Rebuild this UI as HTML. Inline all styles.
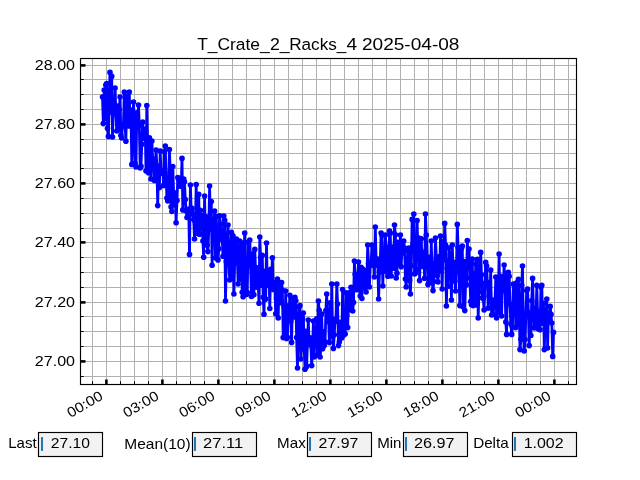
<!DOCTYPE html>
<html><head><meta charset="utf-8"><title>T_Crate_2_Racks_4</title>
<style>
html,body{margin:0;padding:0;background:#fff;}
body{width:640px;height:480px;overflow:hidden;}
svg{display:block;will-change:transform;font-family:"Liberation Sans",sans-serif;font-size:14.1px;fill:#000;}
</style></head><body>
<svg width="640" height="480" viewBox="0 0 640 480">
<rect width="640" height="480" fill="#fff"/>
<g stroke="#b0b0b0" stroke-width="1" fill="none" shape-rendering="crispEdges"><path d="M92.5 58.5V384.5"/><path d="M106.5 58.5V384.5"/><path d="M120.5 58.5V384.5"/><path d="M134.5 58.5V384.5"/><path d="M148.5 58.5V384.5"/><path d="M162.5 58.5V384.5"/><path d="M176.5 58.5V384.5"/><path d="M190.5 58.5V384.5"/><path d="M204.5 58.5V384.5"/><path d="M218.5 58.5V384.5"/><path d="M232.5 58.5V384.5"/><path d="M246.5 58.5V384.5"/><path d="M260.5 58.5V384.5"/><path d="M274.5 58.5V384.5"/><path d="M288.5 58.5V384.5"/><path d="M302.5 58.5V384.5"/><path d="M316.5 58.5V384.5"/><path d="M330.5 58.5V384.5"/><path d="M344.5 58.5V384.5"/><path d="M358.5 58.5V384.5"/><path d="M372.5 58.5V384.5"/><path d="M386.5 58.5V384.5"/><path d="M400.5 58.5V384.5"/><path d="M414.5 58.5V384.5"/><path d="M428.5 58.5V384.5"/><path d="M442.5 58.5V384.5"/><path d="M456.5 58.5V384.5"/><path d="M470.5 58.5V384.5"/><path d="M484.5 58.5V384.5"/><path d="M498.5 58.5V384.5"/><path d="M512.5 58.5V384.5"/><path d="M526.5 58.5V384.5"/><path d="M540.5 58.5V384.5"/><path d="M554.5 58.5V384.5"/><path d="M568.5 58.5V384.5"/><path d="M80.5 376.5H576.5"/><path d="M80.5 361.5H576.5"/><path d="M80.5 346.5H576.5"/><path d="M80.5 331.5H576.5"/><path d="M80.5 316.5H576.5"/><path d="M80.5 302.5H576.5"/><path d="M80.5 287.5H576.5"/><path d="M80.5 272.5H576.5"/><path d="M80.5 257.5H576.5"/><path d="M80.5 242.5H576.5"/><path d="M80.5 228.5H576.5"/><path d="M80.5 213.5H576.5"/><path d="M80.5 198.5H576.5"/><path d="M80.5 183.5H576.5"/><path d="M80.5 168.5H576.5"/><path d="M80.5 153.5H576.5"/><path d="M80.5 139.5H576.5"/><path d="M80.5 124.5H576.5"/><path d="M80.5 109.5H576.5"/><path d="M80.5 94.5H576.5"/><path d="M80.5 79.5H576.5"/><path d="M80.5 65.5H576.5"/></g>
<g stroke="#000" stroke-width="1" fill="none"><path d="M92.5 384.5v-3.2"/><path d="M106.5 384.5v-3.2"/><path d="M120.5 384.5v-3.2"/><path d="M134.5 384.5v-3.2"/><path d="M148.5 384.5v-3.2"/><path d="M162.5 384.5v-3.2"/><path d="M176.5 384.5v-3.2"/><path d="M190.5 384.5v-3.2"/><path d="M204.5 384.5v-3.2"/><path d="M218.5 384.5v-3.2"/><path d="M232.5 384.5v-3.2"/><path d="M246.5 384.5v-3.2"/><path d="M260.5 384.5v-3.2"/><path d="M274.5 384.5v-3.2"/><path d="M288.5 384.5v-3.2"/><path d="M302.5 384.5v-3.2"/><path d="M316.5 384.5v-3.2"/><path d="M330.5 384.5v-3.2"/><path d="M344.5 384.5v-3.2"/><path d="M358.5 384.5v-3.2"/><path d="M372.5 384.5v-3.2"/><path d="M386.5 384.5v-3.2"/><path d="M400.5 384.5v-3.2"/><path d="M414.5 384.5v-3.2"/><path d="M428.5 384.5v-3.2"/><path d="M442.5 384.5v-3.2"/><path d="M456.5 384.5v-3.2"/><path d="M470.5 384.5v-3.2"/><path d="M484.5 384.5v-3.2"/><path d="M498.5 384.5v-3.2"/><path d="M512.5 384.5v-3.2"/><path d="M526.5 384.5v-3.2"/><path d="M540.5 384.5v-3.2"/><path d="M554.5 384.5v-3.2"/><path d="M568.5 384.5v-3.2"/><path d="M80.5 376.5h3.2"/><path d="M80.5 361.5h3.2"/><path d="M80.5 346.5h3.2"/><path d="M80.5 331.5h3.2"/><path d="M80.5 316.5h3.2"/><path d="M80.5 302.5h3.2"/><path d="M80.5 287.5h3.2"/><path d="M80.5 272.5h3.2"/><path d="M80.5 257.5h3.2"/><path d="M80.5 242.5h3.2"/><path d="M80.5 228.5h3.2"/><path d="M80.5 213.5h3.2"/><path d="M80.5 198.5h3.2"/><path d="M80.5 183.5h3.2"/><path d="M80.5 168.5h3.2"/><path d="M80.5 153.5h3.2"/><path d="M80.5 139.5h3.2"/><path d="M80.5 124.5h3.2"/><path d="M80.5 109.5h3.2"/><path d="M80.5 94.5h3.2"/><path d="M80.5 79.5h3.2"/><path d="M80.5 65.5h3.2"/></g>
<g stroke="#000" stroke-width="2.6" fill="none"><path d="M106.4 384.5v-5.0"/><path d="M162.4 384.5v-5.0"/><path d="M218.4 384.5v-5.0"/><path d="M274.4 384.5v-5.0"/><path d="M330.4 384.5v-5.0"/><path d="M386.4 384.5v-5.0"/><path d="M442.4 384.5v-5.0"/><path d="M498.4 384.5v-5.0"/><path d="M554.4 384.5v-5.0"/><path d="M80.5 361.4h5.0"/><path d="M80.5 302.4h5.0"/><path d="M80.5 242.4h5.0"/><path d="M80.5 183.4h5.0"/><path d="M80.5 124.4h5.0"/><path d="M80.5 65.4h5.0"/></g>
<polyline points="102.5,97.0 103.3,123.6 104.2,90.0 105.0,118.7 105.8,85.0 106.7,83.6 107.5,128.4 108.4,136.4 109.2,103.8 110.0,72.4 110.9,112.2 111.7,76.4 112.5,137.0 113.4,102.6 114.2,112.1 115.1,88.0 115.9,114.1 116.7,131.0 117.6,106.1 118.4,129.6 119.2,109.5 120.1,97.0 120.9,135.4 121.7,138.0 122.6,124.7 123.4,125.8 124.3,92.0 125.1,125.6 125.9,141.3 126.8,96.6 127.6,106.4 128.4,125.9 129.3,92.0 130.1,125.6 130.9,110.1 131.8,164.4 132.6,137.0 133.5,102.0 134.3,122.0 135.1,163.4 136.0,167.0 136.8,112.9 137.6,124.6 138.5,105.0 139.3,125.4 140.2,168.0 141.0,166.3 141.8,144.2 142.7,122.0 143.5,138.1 144.3,135.6 145.2,129.1 146.0,171.0 146.8,105.6 147.7,145.0 148.5,172.8 149.4,137.8 150.2,163.9 151.0,179.0 151.9,141.0 152.7,159.3 153.5,159.3 154.4,180.4 155.2,164.6 156.1,150.0 156.9,166.2 157.7,205.6 158.6,166.3 159.4,187.6 160.2,151.0 161.1,173.3 161.9,173.3 162.7,170.5 163.6,185.4 164.4,151.8 165.3,146.0 166.1,178.8 166.9,198.0 167.8,201.0 168.6,186.9 169.4,149.6 170.3,172.9 171.1,206.9 171.9,211.5 172.8,166.6 173.6,192.3 174.5,204.7 175.3,195.1 176.1,222.7 177.0,200.5 177.8,177.6 178.6,179.5 179.5,186.0 180.3,184.6 181.2,186.5 182.0,158.4 182.8,209.9 183.7,179.0 184.5,181.7 185.3,199.5 186.2,211.0 187.0,217.5 187.8,212.6 188.7,209.1 189.5,254.4 190.4,185.0 191.2,210.6 192.0,208.3 192.9,214.2 193.7,219.6 194.5,239.0 195.4,221.8 196.2,184.6 197.1,233.1 197.9,233.6 198.7,194.4 199.6,234.3 200.4,210.4 201.2,218.0 202.1,215.6 202.9,241.0 203.7,257.3 204.6,196.0 205.4,241.7 206.3,216.7 207.1,245.3 207.9,251.6 208.8,229.6 209.6,186.0 210.4,222.9 211.3,201.5 212.1,265.3 212.9,219.6 213.8,235.6 214.6,211.0 215.5,258.0 216.3,216.6 217.1,241.3 218.0,259.9 218.8,248.7 219.6,215.8 220.5,224.2 221.3,239.1 222.2,239.3 223.0,256.2 223.8,216.0 224.7,220.4 225.5,301.0 226.3,261.8 227.2,242.1 228.0,225.0 228.8,262.1 229.7,280.0 230.5,262.0 231.4,232.4 232.2,278.5 233.0,235.7 233.9,294.0 234.7,261.9 235.5,241.7 236.4,239.0 237.2,251.6 238.1,284.0 238.9,264.3 239.7,241.0 240.6,279.2 241.4,242.8 242.2,292.2 243.1,296.8 243.9,258.9 244.7,233.0 245.6,292.0 246.4,294.5 247.3,292.6 248.1,242.3 248.9,258.9 249.8,240.0 250.6,266.1 251.4,296.5 252.3,257.6 253.1,253.8 253.9,294.8 254.8,249.4 255.6,270.4 256.5,287.1 257.3,267.7 258.1,280.9 259.0,303.3 259.8,237.0 260.6,257.6 261.5,285.2 262.3,255.3 263.2,297.3 264.0,314.2 264.8,271.4 265.7,299.1 266.5,243.0 267.3,284.1 268.2,285.5 269.0,272.7 269.8,308.5 270.7,269.2 271.5,278.8 272.4,257.8 273.2,289.4 274.0,282.8 274.9,288.0 275.7,313.8 276.5,298.5 277.4,279.0 278.2,318.0 279.1,282.3 279.9,285.8 280.7,302.8 281.6,282.6 282.4,290.2 283.2,337.6 284.1,306.2 284.9,333.0 285.7,291.0 286.6,338.4 287.4,337.4 288.3,305.9 289.1,311.7 289.9,295.3 290.8,320.9 291.6,342.4 292.4,306.8 293.3,298.5 294.1,316.9 294.9,297.3 295.8,300.7 296.6,337.5 297.5,368.0 298.3,326.4 299.1,306.7 300.0,305.6 300.8,359.0 301.6,339.4 302.5,318.9 303.3,313.0 304.2,349.5 305.0,369.2 305.8,331.2 306.7,366.4 307.5,340.5 308.3,320.0 309.2,344.6 310.0,337.9 310.8,342.9 311.7,365.6 312.5,348.2 313.4,321.0 314.2,357.0 315.0,333.9 315.9,335.7 316.7,318.9 317.5,355.0 318.4,301.0 319.2,310.2 320.1,357.0 320.9,348.5 321.7,314.1 322.6,348.8 323.4,331.8 324.2,345.6 325.1,341.8 325.9,310.6 326.7,294.0 327.6,321.5 328.4,311.4 329.3,342.4 330.1,302.7 330.9,336.4 331.8,284.0 332.6,333.2 333.4,348.4 334.3,334.7 335.1,319.3 335.9,321.2 336.8,284.0 337.6,304.0 338.5,345.6 339.3,341.9 340.1,322.3 341.0,329.2 341.8,338.0 342.6,289.5 343.5,335.2 344.3,315.1 345.2,334.0 346.0,292.7 346.8,315.5 347.7,327.6 348.5,297.5 349.3,292.8 350.2,309.7 351.0,287.4 351.8,298.5 352.7,311.0 353.5,302.4 354.4,261.0 355.2,274.3 356.0,285.9 356.9,289.8 357.7,283.8 358.5,262.0 359.4,273.0 360.2,296.0 361.1,267.3 361.9,298.5 362.7,269.0 363.6,282.1 364.4,288.0 365.2,270.8 366.1,292.0 366.9,277.4 367.7,245.0 368.6,263.2 369.4,287.0 370.3,265.1 371.1,265.3 371.9,245.0 372.8,262.6 373.6,252.9 374.4,277.0 375.3,227.0 376.1,259.2 376.9,258.7 377.8,265.3 378.6,299.0 379.5,272.1 380.3,260.9 381.1,233.0 382.0,235.3 382.8,286.0 383.6,254.4 384.5,270.9 385.3,235.0 386.2,247.1 387.0,271.9 387.8,276.3 388.7,272.0 389.5,231.0 390.3,233.0 391.2,276.0 392.0,257.2 392.8,247.0 393.7,268.2 394.5,225.0 395.4,234.8 396.2,278.0 397.0,273.2 397.9,242.4 398.7,263.9 399.5,258.0 400.4,235.0 401.2,266.7 402.1,243.9 402.9,253.1 403.7,241.0 404.6,248.0 405.4,279.0 406.2,287.0 407.1,265.6 407.9,250.8 408.7,248.0 409.6,280.4 410.4,294.0 411.3,265.6 412.1,219.4 412.9,244.7 413.8,214.0 414.6,274.0 415.4,273.0 416.3,269.4 417.1,220.6 417.9,250.6 418.8,238.0 419.6,280.6 420.5,249.2 421.3,238.7 422.1,266.5 423.0,263.1 423.8,252.5 424.6,278.2 425.5,214.0 426.3,235.0 427.2,257.4 428.0,284.6 428.8,282.7 429.7,257.3 430.5,279.0 431.3,241.0 432.2,281.9 433.0,290.6 433.8,281.5 434.7,263.3 435.5,238.0 436.4,259.0 437.2,275.6 438.0,282.0 438.9,256.7 439.7,271.1 440.5,236.0 441.4,258.8 442.2,289.0 443.1,241.6 443.9,259.8 444.7,223.4 445.6,245.1 446.4,306.0 447.2,268.4 448.1,286.3 448.9,248.0 449.7,261.1 450.6,253.9 451.4,300.0 452.3,245.0 453.1,272.0 453.9,262.2 454.8,280.9 455.6,291.0 456.4,269.1 457.3,224.4 458.1,247.6 458.9,264.5 459.8,305.6 460.6,248.1 461.5,248.2 462.3,246.0 463.1,306.7 464.0,261.5 464.8,310.6 465.6,284.0 466.5,284.8 467.3,240.6 468.2,262.6 469.0,249.0 469.8,278.0 470.7,301.5 471.5,304.8 472.3,259.0 473.2,305.6 474.0,273.8 474.8,304.4 475.7,263.7 476.5,305.0 477.4,259.4 478.2,318.0 479.0,291.8 479.9,276.3 480.7,252.4 481.5,274.7 482.4,297.7 483.2,298.4 484.1,310.0 484.9,283.3 485.7,262.4 486.6,266.0 487.4,282.6 488.2,308.1 489.1,296.0 489.9,300.1 490.7,270.0 491.6,315.0 492.4,300.0 493.3,314.5 494.1,301.6 494.9,303.5 495.8,277.0 496.6,318.0 497.4,304.8 498.3,301.0 499.1,254.0 499.9,312.8 500.8,276.4 501.6,316.0 502.5,276.8 503.3,290.4 504.1,265.0 505.0,285.9 505.8,322.0 506.6,334.4 507.5,273.4 508.3,272.4 509.2,276.3 510.0,304.1 510.8,324.1 511.7,334.4 512.5,327.0 513.3,284.0 514.2,285.1 515.0,297.4 515.8,327.6 516.7,282.9 517.5,323.7 518.4,279.4 519.2,308.7 520.0,349.6 520.9,339.3 521.7,285.2 522.5,266.0 523.4,330.9 524.2,351.0 525.1,339.5 525.9,313.2 526.7,290.6 527.6,289.0 528.4,312.5 529.2,345.6 530.1,313.8 530.9,335.5 531.7,300.6 532.6,278.4 533.4,308.2 534.3,328.0 535.1,326.6 535.9,322.6 536.8,285.2 537.6,314.5 538.4,329.0 539.3,311.4 540.1,329.8 540.9,287.1 541.8,285.2 542.6,323.2 543.5,303.3 544.3,349.6 545.1,321.0 546.0,317.5 546.8,299.0 547.6,348.0 548.5,313.5 549.3,320.4 550.2,306.4 551.0,314.4 551.8,323.0 552.7,356.4 553.5,332.4" fill="none" stroke="#0000ff" stroke-width="2.78" stroke-linejoin="round" stroke-linecap="butt"/>
<g fill="#0000ff" stroke="none"><circle cx="102.5" cy="97.0" r="2.8"/><circle cx="103.3" cy="123.6" r="2.8"/><circle cx="104.2" cy="90.0" r="2.8"/><circle cx="105.0" cy="118.7" r="2.8"/><circle cx="105.8" cy="85.0" r="2.8"/><circle cx="106.7" cy="83.6" r="2.8"/><circle cx="107.5" cy="128.4" r="2.8"/><circle cx="108.4" cy="136.4" r="2.8"/><circle cx="109.2" cy="103.8" r="2.8"/><circle cx="110.0" cy="72.4" r="2.8"/><circle cx="110.9" cy="112.2" r="2.8"/><circle cx="111.7" cy="76.4" r="2.8"/><circle cx="112.5" cy="137.0" r="2.8"/><circle cx="113.4" cy="102.6" r="2.8"/><circle cx="114.2" cy="112.1" r="2.8"/><circle cx="115.1" cy="88.0" r="2.8"/><circle cx="115.9" cy="114.1" r="2.8"/><circle cx="116.7" cy="131.0" r="2.8"/><circle cx="117.6" cy="106.1" r="2.8"/><circle cx="118.4" cy="129.6" r="2.8"/><circle cx="119.2" cy="109.5" r="2.8"/><circle cx="120.1" cy="97.0" r="2.8"/><circle cx="120.9" cy="135.4" r="2.8"/><circle cx="121.7" cy="138.0" r="2.8"/><circle cx="122.6" cy="124.7" r="2.8"/><circle cx="123.4" cy="125.8" r="2.8"/><circle cx="124.3" cy="92.0" r="2.8"/><circle cx="125.1" cy="125.6" r="2.8"/><circle cx="125.9" cy="141.3" r="2.8"/><circle cx="126.8" cy="96.6" r="2.8"/><circle cx="127.6" cy="106.4" r="2.8"/><circle cx="128.4" cy="125.9" r="2.8"/><circle cx="129.3" cy="92.0" r="2.8"/><circle cx="130.1" cy="125.6" r="2.8"/><circle cx="130.9" cy="110.1" r="2.8"/><circle cx="131.8" cy="164.4" r="2.8"/><circle cx="132.6" cy="137.0" r="2.8"/><circle cx="133.5" cy="102.0" r="2.8"/><circle cx="134.3" cy="122.0" r="2.8"/><circle cx="135.1" cy="163.4" r="2.8"/><circle cx="136.0" cy="167.0" r="2.8"/><circle cx="136.8" cy="112.9" r="2.8"/><circle cx="137.6" cy="124.6" r="2.8"/><circle cx="138.5" cy="105.0" r="2.8"/><circle cx="139.3" cy="125.4" r="2.8"/><circle cx="140.2" cy="168.0" r="2.8"/><circle cx="141.0" cy="166.3" r="2.8"/><circle cx="141.8" cy="144.2" r="2.8"/><circle cx="142.7" cy="122.0" r="2.8"/><circle cx="143.5" cy="138.1" r="2.8"/><circle cx="144.3" cy="135.6" r="2.8"/><circle cx="145.2" cy="129.1" r="2.8"/><circle cx="146.0" cy="171.0" r="2.8"/><circle cx="146.8" cy="105.6" r="2.8"/><circle cx="147.7" cy="145.0" r="2.8"/><circle cx="148.5" cy="172.8" r="2.8"/><circle cx="149.4" cy="137.8" r="2.8"/><circle cx="150.2" cy="163.9" r="2.8"/><circle cx="151.0" cy="179.0" r="2.8"/><circle cx="151.9" cy="141.0" r="2.8"/><circle cx="152.7" cy="159.3" r="2.8"/><circle cx="153.5" cy="159.3" r="2.8"/><circle cx="154.4" cy="180.4" r="2.8"/><circle cx="155.2" cy="164.6" r="2.8"/><circle cx="156.1" cy="150.0" r="2.8"/><circle cx="156.9" cy="166.2" r="2.8"/><circle cx="157.7" cy="205.6" r="2.8"/><circle cx="158.6" cy="166.3" r="2.8"/><circle cx="159.4" cy="187.6" r="2.8"/><circle cx="160.2" cy="151.0" r="2.8"/><circle cx="161.1" cy="173.3" r="2.8"/><circle cx="161.9" cy="173.3" r="2.8"/><circle cx="162.7" cy="170.5" r="2.8"/><circle cx="163.6" cy="185.4" r="2.8"/><circle cx="164.4" cy="151.8" r="2.8"/><circle cx="165.3" cy="146.0" r="2.8"/><circle cx="166.1" cy="178.8" r="2.8"/><circle cx="166.9" cy="198.0" r="2.8"/><circle cx="167.8" cy="201.0" r="2.8"/><circle cx="168.6" cy="186.9" r="2.8"/><circle cx="169.4" cy="149.6" r="2.8"/><circle cx="170.3" cy="172.9" r="2.8"/><circle cx="171.1" cy="206.9" r="2.8"/><circle cx="171.9" cy="211.5" r="2.8"/><circle cx="172.8" cy="166.6" r="2.8"/><circle cx="173.6" cy="192.3" r="2.8"/><circle cx="174.5" cy="204.7" r="2.8"/><circle cx="175.3" cy="195.1" r="2.8"/><circle cx="176.1" cy="222.7" r="2.8"/><circle cx="177.0" cy="200.5" r="2.8"/><circle cx="177.8" cy="177.6" r="2.8"/><circle cx="178.6" cy="179.5" r="2.8"/><circle cx="179.5" cy="186.0" r="2.8"/><circle cx="180.3" cy="184.6" r="2.8"/><circle cx="181.2" cy="186.5" r="2.8"/><circle cx="182.0" cy="158.4" r="2.8"/><circle cx="182.8" cy="209.9" r="2.8"/><circle cx="183.7" cy="179.0" r="2.8"/><circle cx="184.5" cy="181.7" r="2.8"/><circle cx="185.3" cy="199.5" r="2.8"/><circle cx="186.2" cy="211.0" r="2.8"/><circle cx="187.0" cy="217.5" r="2.8"/><circle cx="187.8" cy="212.6" r="2.8"/><circle cx="188.7" cy="209.1" r="2.8"/><circle cx="189.5" cy="254.4" r="2.8"/><circle cx="190.4" cy="185.0" r="2.8"/><circle cx="191.2" cy="210.6" r="2.8"/><circle cx="192.0" cy="208.3" r="2.8"/><circle cx="192.9" cy="214.2" r="2.8"/><circle cx="193.7" cy="219.6" r="2.8"/><circle cx="194.5" cy="239.0" r="2.8"/><circle cx="195.4" cy="221.8" r="2.8"/><circle cx="196.2" cy="184.6" r="2.8"/><circle cx="197.1" cy="233.1" r="2.8"/><circle cx="197.9" cy="233.6" r="2.8"/><circle cx="198.7" cy="194.4" r="2.8"/><circle cx="199.6" cy="234.3" r="2.8"/><circle cx="200.4" cy="210.4" r="2.8"/><circle cx="201.2" cy="218.0" r="2.8"/><circle cx="202.1" cy="215.6" r="2.8"/><circle cx="202.9" cy="241.0" r="2.8"/><circle cx="203.7" cy="257.3" r="2.8"/><circle cx="204.6" cy="196.0" r="2.8"/><circle cx="205.4" cy="241.7" r="2.8"/><circle cx="206.3" cy="216.7" r="2.8"/><circle cx="207.1" cy="245.3" r="2.8"/><circle cx="207.9" cy="251.6" r="2.8"/><circle cx="208.8" cy="229.6" r="2.8"/><circle cx="209.6" cy="186.0" r="2.8"/><circle cx="210.4" cy="222.9" r="2.8"/><circle cx="211.3" cy="201.5" r="2.8"/><circle cx="212.1" cy="265.3" r="2.8"/><circle cx="212.9" cy="219.6" r="2.8"/><circle cx="213.8" cy="235.6" r="2.8"/><circle cx="214.6" cy="211.0" r="2.8"/><circle cx="215.5" cy="258.0" r="2.8"/><circle cx="216.3" cy="216.6" r="2.8"/><circle cx="217.1" cy="241.3" r="2.8"/><circle cx="218.0" cy="259.9" r="2.8"/><circle cx="218.8" cy="248.7" r="2.8"/><circle cx="219.6" cy="215.8" r="2.8"/><circle cx="220.5" cy="224.2" r="2.8"/><circle cx="221.3" cy="239.1" r="2.8"/><circle cx="222.2" cy="239.3" r="2.8"/><circle cx="223.0" cy="256.2" r="2.8"/><circle cx="223.8" cy="216.0" r="2.8"/><circle cx="224.7" cy="220.4" r="2.8"/><circle cx="225.5" cy="301.0" r="2.8"/><circle cx="226.3" cy="261.8" r="2.8"/><circle cx="227.2" cy="242.1" r="2.8"/><circle cx="228.0" cy="225.0" r="2.8"/><circle cx="228.8" cy="262.1" r="2.8"/><circle cx="229.7" cy="280.0" r="2.8"/><circle cx="230.5" cy="262.0" r="2.8"/><circle cx="231.4" cy="232.4" r="2.8"/><circle cx="232.2" cy="278.5" r="2.8"/><circle cx="233.0" cy="235.7" r="2.8"/><circle cx="233.9" cy="294.0" r="2.8"/><circle cx="234.7" cy="261.9" r="2.8"/><circle cx="235.5" cy="241.7" r="2.8"/><circle cx="236.4" cy="239.0" r="2.8"/><circle cx="237.2" cy="251.6" r="2.8"/><circle cx="238.1" cy="284.0" r="2.8"/><circle cx="238.9" cy="264.3" r="2.8"/><circle cx="239.7" cy="241.0" r="2.8"/><circle cx="240.6" cy="279.2" r="2.8"/><circle cx="241.4" cy="242.8" r="2.8"/><circle cx="242.2" cy="292.2" r="2.8"/><circle cx="243.1" cy="296.8" r="2.8"/><circle cx="243.9" cy="258.9" r="2.8"/><circle cx="244.7" cy="233.0" r="2.8"/><circle cx="245.6" cy="292.0" r="2.8"/><circle cx="246.4" cy="294.5" r="2.8"/><circle cx="247.3" cy="292.6" r="2.8"/><circle cx="248.1" cy="242.3" r="2.8"/><circle cx="248.9" cy="258.9" r="2.8"/><circle cx="249.8" cy="240.0" r="2.8"/><circle cx="250.6" cy="266.1" r="2.8"/><circle cx="251.4" cy="296.5" r="2.8"/><circle cx="252.3" cy="257.6" r="2.8"/><circle cx="253.1" cy="253.8" r="2.8"/><circle cx="253.9" cy="294.8" r="2.8"/><circle cx="254.8" cy="249.4" r="2.8"/><circle cx="255.6" cy="270.4" r="2.8"/><circle cx="256.5" cy="287.1" r="2.8"/><circle cx="257.3" cy="267.7" r="2.8"/><circle cx="258.1" cy="280.9" r="2.8"/><circle cx="259.0" cy="303.3" r="2.8"/><circle cx="259.8" cy="237.0" r="2.8"/><circle cx="260.6" cy="257.6" r="2.8"/><circle cx="261.5" cy="285.2" r="2.8"/><circle cx="262.3" cy="255.3" r="2.8"/><circle cx="263.2" cy="297.3" r="2.8"/><circle cx="264.0" cy="314.2" r="2.8"/><circle cx="264.8" cy="271.4" r="2.8"/><circle cx="265.7" cy="299.1" r="2.8"/><circle cx="266.5" cy="243.0" r="2.8"/><circle cx="267.3" cy="284.1" r="2.8"/><circle cx="268.2" cy="285.5" r="2.8"/><circle cx="269.0" cy="272.7" r="2.8"/><circle cx="269.8" cy="308.5" r="2.8"/><circle cx="270.7" cy="269.2" r="2.8"/><circle cx="271.5" cy="278.8" r="2.8"/><circle cx="272.4" cy="257.8" r="2.8"/><circle cx="273.2" cy="289.4" r="2.8"/><circle cx="274.0" cy="282.8" r="2.8"/><circle cx="274.9" cy="288.0" r="2.8"/><circle cx="275.7" cy="313.8" r="2.8"/><circle cx="276.5" cy="298.5" r="2.8"/><circle cx="277.4" cy="279.0" r="2.8"/><circle cx="278.2" cy="318.0" r="2.8"/><circle cx="279.1" cy="282.3" r="2.8"/><circle cx="279.9" cy="285.8" r="2.8"/><circle cx="280.7" cy="302.8" r="2.8"/><circle cx="281.6" cy="282.6" r="2.8"/><circle cx="282.4" cy="290.2" r="2.8"/><circle cx="283.2" cy="337.6" r="2.8"/><circle cx="284.1" cy="306.2" r="2.8"/><circle cx="284.9" cy="333.0" r="2.8"/><circle cx="285.7" cy="291.0" r="2.8"/><circle cx="286.6" cy="338.4" r="2.8"/><circle cx="287.4" cy="337.4" r="2.8"/><circle cx="288.3" cy="305.9" r="2.8"/><circle cx="289.1" cy="311.7" r="2.8"/><circle cx="289.9" cy="295.3" r="2.8"/><circle cx="290.8" cy="320.9" r="2.8"/><circle cx="291.6" cy="342.4" r="2.8"/><circle cx="292.4" cy="306.8" r="2.8"/><circle cx="293.3" cy="298.5" r="2.8"/><circle cx="294.1" cy="316.9" r="2.8"/><circle cx="294.9" cy="297.3" r="2.8"/><circle cx="295.8" cy="300.7" r="2.8"/><circle cx="296.6" cy="337.5" r="2.8"/><circle cx="297.5" cy="368.0" r="2.8"/><circle cx="298.3" cy="326.4" r="2.8"/><circle cx="299.1" cy="306.7" r="2.8"/><circle cx="300.0" cy="305.6" r="2.8"/><circle cx="300.8" cy="359.0" r="2.8"/><circle cx="301.6" cy="339.4" r="2.8"/><circle cx="302.5" cy="318.9" r="2.8"/><circle cx="303.3" cy="313.0" r="2.8"/><circle cx="304.2" cy="349.5" r="2.8"/><circle cx="305.0" cy="369.2" r="2.8"/><circle cx="305.8" cy="331.2" r="2.8"/><circle cx="306.7" cy="366.4" r="2.8"/><circle cx="307.5" cy="340.5" r="2.8"/><circle cx="308.3" cy="320.0" r="2.8"/><circle cx="309.2" cy="344.6" r="2.8"/><circle cx="310.0" cy="337.9" r="2.8"/><circle cx="310.8" cy="342.9" r="2.8"/><circle cx="311.7" cy="365.6" r="2.8"/><circle cx="312.5" cy="348.2" r="2.8"/><circle cx="313.4" cy="321.0" r="2.8"/><circle cx="314.2" cy="357.0" r="2.8"/><circle cx="315.0" cy="333.9" r="2.8"/><circle cx="315.9" cy="335.7" r="2.8"/><circle cx="316.7" cy="318.9" r="2.8"/><circle cx="317.5" cy="355.0" r="2.8"/><circle cx="318.4" cy="301.0" r="2.8"/><circle cx="319.2" cy="310.2" r="2.8"/><circle cx="320.1" cy="357.0" r="2.8"/><circle cx="320.9" cy="348.5" r="2.8"/><circle cx="321.7" cy="314.1" r="2.8"/><circle cx="322.6" cy="348.8" r="2.8"/><circle cx="323.4" cy="331.8" r="2.8"/><circle cx="324.2" cy="345.6" r="2.8"/><circle cx="325.1" cy="341.8" r="2.8"/><circle cx="325.9" cy="310.6" r="2.8"/><circle cx="326.7" cy="294.0" r="2.8"/><circle cx="327.6" cy="321.5" r="2.8"/><circle cx="328.4" cy="311.4" r="2.8"/><circle cx="329.3" cy="342.4" r="2.8"/><circle cx="330.1" cy="302.7" r="2.8"/><circle cx="330.9" cy="336.4" r="2.8"/><circle cx="331.8" cy="284.0" r="2.8"/><circle cx="332.6" cy="333.2" r="2.8"/><circle cx="333.4" cy="348.4" r="2.8"/><circle cx="334.3" cy="334.7" r="2.8"/><circle cx="335.1" cy="319.3" r="2.8"/><circle cx="335.9" cy="321.2" r="2.8"/><circle cx="336.8" cy="284.0" r="2.8"/><circle cx="337.6" cy="304.0" r="2.8"/><circle cx="338.5" cy="345.6" r="2.8"/><circle cx="339.3" cy="341.9" r="2.8"/><circle cx="340.1" cy="322.3" r="2.8"/><circle cx="341.0" cy="329.2" r="2.8"/><circle cx="341.8" cy="338.0" r="2.8"/><circle cx="342.6" cy="289.5" r="2.8"/><circle cx="343.5" cy="335.2" r="2.8"/><circle cx="344.3" cy="315.1" r="2.8"/><circle cx="345.2" cy="334.0" r="2.8"/><circle cx="346.0" cy="292.7" r="2.8"/><circle cx="346.8" cy="315.5" r="2.8"/><circle cx="347.7" cy="327.6" r="2.8"/><circle cx="348.5" cy="297.5" r="2.8"/><circle cx="349.3" cy="292.8" r="2.8"/><circle cx="350.2" cy="309.7" r="2.8"/><circle cx="351.0" cy="287.4" r="2.8"/><circle cx="351.8" cy="298.5" r="2.8"/><circle cx="352.7" cy="311.0" r="2.8"/><circle cx="353.5" cy="302.4" r="2.8"/><circle cx="354.4" cy="261.0" r="2.8"/><circle cx="355.2" cy="274.3" r="2.8"/><circle cx="356.0" cy="285.9" r="2.8"/><circle cx="356.9" cy="289.8" r="2.8"/><circle cx="357.7" cy="283.8" r="2.8"/><circle cx="358.5" cy="262.0" r="2.8"/><circle cx="359.4" cy="273.0" r="2.8"/><circle cx="360.2" cy="296.0" r="2.8"/><circle cx="361.1" cy="267.3" r="2.8"/><circle cx="361.9" cy="298.5" r="2.8"/><circle cx="362.7" cy="269.0" r="2.8"/><circle cx="363.6" cy="282.1" r="2.8"/><circle cx="364.4" cy="288.0" r="2.8"/><circle cx="365.2" cy="270.8" r="2.8"/><circle cx="366.1" cy="292.0" r="2.8"/><circle cx="366.9" cy="277.4" r="2.8"/><circle cx="367.7" cy="245.0" r="2.8"/><circle cx="368.6" cy="263.2" r="2.8"/><circle cx="369.4" cy="287.0" r="2.8"/><circle cx="370.3" cy="265.1" r="2.8"/><circle cx="371.1" cy="265.3" r="2.8"/><circle cx="371.9" cy="245.0" r="2.8"/><circle cx="372.8" cy="262.6" r="2.8"/><circle cx="373.6" cy="252.9" r="2.8"/><circle cx="374.4" cy="277.0" r="2.8"/><circle cx="375.3" cy="227.0" r="2.8"/><circle cx="376.1" cy="259.2" r="2.8"/><circle cx="376.9" cy="258.7" r="2.8"/><circle cx="377.8" cy="265.3" r="2.8"/><circle cx="378.6" cy="299.0" r="2.8"/><circle cx="379.5" cy="272.1" r="2.8"/><circle cx="380.3" cy="260.9" r="2.8"/><circle cx="381.1" cy="233.0" r="2.8"/><circle cx="382.0" cy="235.3" r="2.8"/><circle cx="382.8" cy="286.0" r="2.8"/><circle cx="383.6" cy="254.4" r="2.8"/><circle cx="384.5" cy="270.9" r="2.8"/><circle cx="385.3" cy="235.0" r="2.8"/><circle cx="386.2" cy="247.1" r="2.8"/><circle cx="387.0" cy="271.9" r="2.8"/><circle cx="387.8" cy="276.3" r="2.8"/><circle cx="388.7" cy="272.0" r="2.8"/><circle cx="389.5" cy="231.0" r="2.8"/><circle cx="390.3" cy="233.0" r="2.8"/><circle cx="391.2" cy="276.0" r="2.8"/><circle cx="392.0" cy="257.2" r="2.8"/><circle cx="392.8" cy="247.0" r="2.8"/><circle cx="393.7" cy="268.2" r="2.8"/><circle cx="394.5" cy="225.0" r="2.8"/><circle cx="395.4" cy="234.8" r="2.8"/><circle cx="396.2" cy="278.0" r="2.8"/><circle cx="397.0" cy="273.2" r="2.8"/><circle cx="397.9" cy="242.4" r="2.8"/><circle cx="398.7" cy="263.9" r="2.8"/><circle cx="399.5" cy="258.0" r="2.8"/><circle cx="400.4" cy="235.0" r="2.8"/><circle cx="401.2" cy="266.7" r="2.8"/><circle cx="402.1" cy="243.9" r="2.8"/><circle cx="402.9" cy="253.1" r="2.8"/><circle cx="403.7" cy="241.0" r="2.8"/><circle cx="404.6" cy="248.0" r="2.8"/><circle cx="405.4" cy="279.0" r="2.8"/><circle cx="406.2" cy="287.0" r="2.8"/><circle cx="407.1" cy="265.6" r="2.8"/><circle cx="407.9" cy="250.8" r="2.8"/><circle cx="408.7" cy="248.0" r="2.8"/><circle cx="409.6" cy="280.4" r="2.8"/><circle cx="410.4" cy="294.0" r="2.8"/><circle cx="411.3" cy="265.6" r="2.8"/><circle cx="412.1" cy="219.4" r="2.8"/><circle cx="412.9" cy="244.7" r="2.8"/><circle cx="413.8" cy="214.0" r="2.8"/><circle cx="414.6" cy="274.0" r="2.8"/><circle cx="415.4" cy="273.0" r="2.8"/><circle cx="416.3" cy="269.4" r="2.8"/><circle cx="417.1" cy="220.6" r="2.8"/><circle cx="417.9" cy="250.6" r="2.8"/><circle cx="418.8" cy="238.0" r="2.8"/><circle cx="419.6" cy="280.6" r="2.8"/><circle cx="420.5" cy="249.2" r="2.8"/><circle cx="421.3" cy="238.7" r="2.8"/><circle cx="422.1" cy="266.5" r="2.8"/><circle cx="423.0" cy="263.1" r="2.8"/><circle cx="423.8" cy="252.5" r="2.8"/><circle cx="424.6" cy="278.2" r="2.8"/><circle cx="425.5" cy="214.0" r="2.8"/><circle cx="426.3" cy="235.0" r="2.8"/><circle cx="427.2" cy="257.4" r="2.8"/><circle cx="428.0" cy="284.6" r="2.8"/><circle cx="428.8" cy="282.7" r="2.8"/><circle cx="429.7" cy="257.3" r="2.8"/><circle cx="430.5" cy="279.0" r="2.8"/><circle cx="431.3" cy="241.0" r="2.8"/><circle cx="432.2" cy="281.9" r="2.8"/><circle cx="433.0" cy="290.6" r="2.8"/><circle cx="433.8" cy="281.5" r="2.8"/><circle cx="434.7" cy="263.3" r="2.8"/><circle cx="435.5" cy="238.0" r="2.8"/><circle cx="436.4" cy="259.0" r="2.8"/><circle cx="437.2" cy="275.6" r="2.8"/><circle cx="438.0" cy="282.0" r="2.8"/><circle cx="438.9" cy="256.7" r="2.8"/><circle cx="439.7" cy="271.1" r="2.8"/><circle cx="440.5" cy="236.0" r="2.8"/><circle cx="441.4" cy="258.8" r="2.8"/><circle cx="442.2" cy="289.0" r="2.8"/><circle cx="443.1" cy="241.6" r="2.8"/><circle cx="443.9" cy="259.8" r="2.8"/><circle cx="444.7" cy="223.4" r="2.8"/><circle cx="445.6" cy="245.1" r="2.8"/><circle cx="446.4" cy="306.0" r="2.8"/><circle cx="447.2" cy="268.4" r="2.8"/><circle cx="448.1" cy="286.3" r="2.8"/><circle cx="448.9" cy="248.0" r="2.8"/><circle cx="449.7" cy="261.1" r="2.8"/><circle cx="450.6" cy="253.9" r="2.8"/><circle cx="451.4" cy="300.0" r="2.8"/><circle cx="452.3" cy="245.0" r="2.8"/><circle cx="453.1" cy="272.0" r="2.8"/><circle cx="453.9" cy="262.2" r="2.8"/><circle cx="454.8" cy="280.9" r="2.8"/><circle cx="455.6" cy="291.0" r="2.8"/><circle cx="456.4" cy="269.1" r="2.8"/><circle cx="457.3" cy="224.4" r="2.8"/><circle cx="458.1" cy="247.6" r="2.8"/><circle cx="458.9" cy="264.5" r="2.8"/><circle cx="459.8" cy="305.6" r="2.8"/><circle cx="460.6" cy="248.1" r="2.8"/><circle cx="461.5" cy="248.2" r="2.8"/><circle cx="462.3" cy="246.0" r="2.8"/><circle cx="463.1" cy="306.7" r="2.8"/><circle cx="464.0" cy="261.5" r="2.8"/><circle cx="464.8" cy="310.6" r="2.8"/><circle cx="465.6" cy="284.0" r="2.8"/><circle cx="466.5" cy="284.8" r="2.8"/><circle cx="467.3" cy="240.6" r="2.8"/><circle cx="468.2" cy="262.6" r="2.8"/><circle cx="469.0" cy="249.0" r="2.8"/><circle cx="469.8" cy="278.0" r="2.8"/><circle cx="470.7" cy="301.5" r="2.8"/><circle cx="471.5" cy="304.8" r="2.8"/><circle cx="472.3" cy="259.0" r="2.8"/><circle cx="473.2" cy="305.6" r="2.8"/><circle cx="474.0" cy="273.8" r="2.8"/><circle cx="474.8" cy="304.4" r="2.8"/><circle cx="475.7" cy="263.7" r="2.8"/><circle cx="476.5" cy="305.0" r="2.8"/><circle cx="477.4" cy="259.4" r="2.8"/><circle cx="478.2" cy="318.0" r="2.8"/><circle cx="479.0" cy="291.8" r="2.8"/><circle cx="479.9" cy="276.3" r="2.8"/><circle cx="480.7" cy="252.4" r="2.8"/><circle cx="481.5" cy="274.7" r="2.8"/><circle cx="482.4" cy="297.7" r="2.8"/><circle cx="483.2" cy="298.4" r="2.8"/><circle cx="484.1" cy="310.0" r="2.8"/><circle cx="484.9" cy="283.3" r="2.8"/><circle cx="485.7" cy="262.4" r="2.8"/><circle cx="486.6" cy="266.0" r="2.8"/><circle cx="487.4" cy="282.6" r="2.8"/><circle cx="488.2" cy="308.1" r="2.8"/><circle cx="489.1" cy="296.0" r="2.8"/><circle cx="489.9" cy="300.1" r="2.8"/><circle cx="490.7" cy="270.0" r="2.8"/><circle cx="491.6" cy="315.0" r="2.8"/><circle cx="492.4" cy="300.0" r="2.8"/><circle cx="493.3" cy="314.5" r="2.8"/><circle cx="494.1" cy="301.6" r="2.8"/><circle cx="494.9" cy="303.5" r="2.8"/><circle cx="495.8" cy="277.0" r="2.8"/><circle cx="496.6" cy="318.0" r="2.8"/><circle cx="497.4" cy="304.8" r="2.8"/><circle cx="498.3" cy="301.0" r="2.8"/><circle cx="499.1" cy="254.0" r="2.8"/><circle cx="499.9" cy="312.8" r="2.8"/><circle cx="500.8" cy="276.4" r="2.8"/><circle cx="501.6" cy="316.0" r="2.8"/><circle cx="502.5" cy="276.8" r="2.8"/><circle cx="503.3" cy="290.4" r="2.8"/><circle cx="504.1" cy="265.0" r="2.8"/><circle cx="505.0" cy="285.9" r="2.8"/><circle cx="505.8" cy="322.0" r="2.8"/><circle cx="506.6" cy="334.4" r="2.8"/><circle cx="507.5" cy="273.4" r="2.8"/><circle cx="508.3" cy="272.4" r="2.8"/><circle cx="509.2" cy="276.3" r="2.8"/><circle cx="510.0" cy="304.1" r="2.8"/><circle cx="510.8" cy="324.1" r="2.8"/><circle cx="511.7" cy="334.4" r="2.8"/><circle cx="512.5" cy="327.0" r="2.8"/><circle cx="513.3" cy="284.0" r="2.8"/><circle cx="514.2" cy="285.1" r="2.8"/><circle cx="515.0" cy="297.4" r="2.8"/><circle cx="515.8" cy="327.6" r="2.8"/><circle cx="516.7" cy="282.9" r="2.8"/><circle cx="517.5" cy="323.7" r="2.8"/><circle cx="518.4" cy="279.4" r="2.8"/><circle cx="519.2" cy="308.7" r="2.8"/><circle cx="520.0" cy="349.6" r="2.8"/><circle cx="520.9" cy="339.3" r="2.8"/><circle cx="521.7" cy="285.2" r="2.8"/><circle cx="522.5" cy="266.0" r="2.8"/><circle cx="523.4" cy="330.9" r="2.8"/><circle cx="524.2" cy="351.0" r="2.8"/><circle cx="525.1" cy="339.5" r="2.8"/><circle cx="525.9" cy="313.2" r="2.8"/><circle cx="526.7" cy="290.6" r="2.8"/><circle cx="527.6" cy="289.0" r="2.8"/><circle cx="528.4" cy="312.5" r="2.8"/><circle cx="529.2" cy="345.6" r="2.8"/><circle cx="530.1" cy="313.8" r="2.8"/><circle cx="530.9" cy="335.5" r="2.8"/><circle cx="531.7" cy="300.6" r="2.8"/><circle cx="532.6" cy="278.4" r="2.8"/><circle cx="533.4" cy="308.2" r="2.8"/><circle cx="534.3" cy="328.0" r="2.8"/><circle cx="535.1" cy="326.6" r="2.8"/><circle cx="535.9" cy="322.6" r="2.8"/><circle cx="536.8" cy="285.2" r="2.8"/><circle cx="537.6" cy="314.5" r="2.8"/><circle cx="538.4" cy="329.0" r="2.8"/><circle cx="539.3" cy="311.4" r="2.8"/><circle cx="540.1" cy="329.8" r="2.8"/><circle cx="540.9" cy="287.1" r="2.8"/><circle cx="541.8" cy="285.2" r="2.8"/><circle cx="542.6" cy="323.2" r="2.8"/><circle cx="543.5" cy="303.3" r="2.8"/><circle cx="544.3" cy="349.6" r="2.8"/><circle cx="545.1" cy="321.0" r="2.8"/><circle cx="546.0" cy="317.5" r="2.8"/><circle cx="546.8" cy="299.0" r="2.8"/><circle cx="547.6" cy="348.0" r="2.8"/><circle cx="548.5" cy="313.5" r="2.8"/><circle cx="549.3" cy="320.4" r="2.8"/><circle cx="550.2" cy="306.4" r="2.8"/><circle cx="551.0" cy="314.4" r="2.8"/><circle cx="551.8" cy="323.0" r="2.8"/><circle cx="552.7" cy="356.4" r="2.8"/><circle cx="553.5" cy="332.4" r="2.8"/></g>
<rect x="80.5" y="58.5" width="496.0" height="326.0" fill="none" stroke="#000" stroke-width="1.15"/>
<g><rect x="38.5" y="432.5" width="64" height="24" fill="#f2f2f2" stroke="#000" stroke-width="1.15"/><path d="M42 437.1V450.9" stroke="#1f77b4" stroke-width="2.08"/><rect x="192.5" y="432.5" width="64" height="24" fill="#f2f2f2" stroke="#000" stroke-width="1.15"/><path d="M195 437.1V450.9" stroke="#1f77b4" stroke-width="2.08"/><rect x="307.5" y="432.5" width="64" height="24" fill="#f2f2f2" stroke="#000" stroke-width="1.15"/><path d="M310 437.1V450.9" stroke="#1f77b4" stroke-width="2.08"/><rect x="403.5" y="432.5" width="64" height="24" fill="#f2f2f2" stroke="#000" stroke-width="1.15"/><path d="M406 437.1V450.9" stroke="#1f77b4" stroke-width="2.08"/><rect x="512.5" y="432.5" width="64" height="24" fill="#f2f2f2" stroke="#000" stroke-width="1.15"/><path d="M515 437.1V450.9" stroke="#1f77b4" stroke-width="2.08"/></g>
<g><text id="y0" x="34.85" y="366.1" font-size="14.1px" textLength="40.21" lengthAdjust="spacingAndGlyphs">27.00</text><text id="y1" x="34.85" y="307.1" font-size="14.1px" textLength="40.21" lengthAdjust="spacingAndGlyphs">27.20</text><text id="y2" x="34.85" y="247.1" font-size="14.1px" textLength="40.21" lengthAdjust="spacingAndGlyphs">27.40</text><text id="y3" x="34.85" y="188.1" font-size="14.1px" textLength="40.21" lengthAdjust="spacingAndGlyphs">27.60</text><text id="y4" x="34.85" y="129.1" font-size="14.1px" textLength="40.21" lengthAdjust="spacingAndGlyphs">27.80</text><text id="y5" x="34.85" y="70.1" font-size="14.1px" textLength="40.21" lengthAdjust="spacingAndGlyphs">28.00</text><text id="l0" x="8.26" y="447.9" font-size="14.1px" textLength="28.40" lengthAdjust="spacingAndGlyphs">Last</text><text id="v0" x="50.74" y="447.9" font-size="14.1px" textLength="39.15" lengthAdjust="spacingAndGlyphs">27.10</text><text id="l1" x="124.33" y="448.8" font-size="14.1px" textLength="66.28" lengthAdjust="spacingAndGlyphs">Mean(10)</text><text id="v1" x="203.02" y="447.9" font-size="14.1px" textLength="40.21" lengthAdjust="spacingAndGlyphs">27.11</text><text id="l2" x="277.14" y="447.9" font-size="14.1px" textLength="28.62" lengthAdjust="spacingAndGlyphs">Max</text><text id="v2" x="318.58" y="447.9" font-size="14.1px" textLength="39.74" lengthAdjust="spacingAndGlyphs">27.97</text><text id="l3" x="377.15" y="447.9" font-size="14.1px" textLength="24.32" lengthAdjust="spacingAndGlyphs">Min</text><text id="v3" x="414.10" y="447.9" font-size="14.1px" textLength="40.52" lengthAdjust="spacingAndGlyphs">26.97</text><text id="l4" x="473.15" y="447.9" font-size="14.1px" textLength="35.58" lengthAdjust="spacingAndGlyphs">Delta</text><text id="v4" x="523.65" y="447.9" font-size="14.1px" textLength="40.04" lengthAdjust="spacingAndGlyphs">1.002</text><text id="t0" x="197.16" y="49.9" font-size="16.9px" textLength="72.51" lengthAdjust="spacingAndGlyphs">T_Crate_</text><text id="t1" x="270.03" y="49.9" font-size="16.9px" textLength="19.72" lengthAdjust="spacingAndGlyphs">2_</text><text id="t2" x="289.19" y="49.9" font-size="16.9px" textLength="57.18" lengthAdjust="spacingAndGlyphs">Racks_</text><text id="t3" x="346.57" y="49.9" font-size="16.9px" textLength="10.58" lengthAdjust="spacingAndGlyphs">4</text><text id="t4" x="361.93" y="49.9" font-size="16.9px" textLength="97.54" lengthAdjust="spacingAndGlyphs">2025-04-08</text></g>
<g><text transform="translate(103.90,398.75) rotate(-30)" text-anchor="end" textLength="38.6" lengthAdjust="spacingAndGlyphs">00:00</text><text transform="translate(159.90,398.75) rotate(-30)" text-anchor="end" textLength="38.6" lengthAdjust="spacingAndGlyphs">03:00</text><text transform="translate(215.90,398.75) rotate(-30)" text-anchor="end" textLength="38.6" lengthAdjust="spacingAndGlyphs">06:00</text><text transform="translate(271.90,398.75) rotate(-30)" text-anchor="end" textLength="38.6" lengthAdjust="spacingAndGlyphs">09:00</text><text transform="translate(327.90,398.75) rotate(-30)" text-anchor="end" textLength="38.6" lengthAdjust="spacingAndGlyphs">12:00</text><text transform="translate(383.90,398.75) rotate(-30)" text-anchor="end" textLength="38.6" lengthAdjust="spacingAndGlyphs">15:00</text><text transform="translate(439.90,398.75) rotate(-30)" text-anchor="end" textLength="38.6" lengthAdjust="spacingAndGlyphs">18:00</text><text transform="translate(495.90,398.75) rotate(-30)" text-anchor="end" textLength="38.6" lengthAdjust="spacingAndGlyphs">21:00</text><text transform="translate(551.90,398.75) rotate(-30)" text-anchor="end" textLength="38.6" lengthAdjust="spacingAndGlyphs">00:00</text></g>
</svg>
</body></html>
